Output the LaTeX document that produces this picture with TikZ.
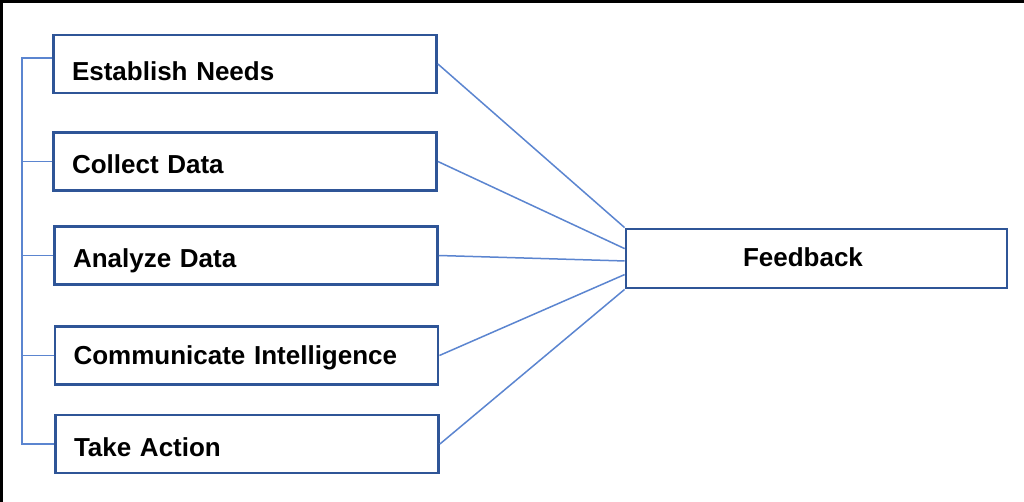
\documentclass[tikz,border=0pt]{standalone}
\usepackage{fontspec}
\setmainfont{Liberation Sans}
\usetikzlibrary{calc}
\definecolor{boxblue}{HTML}{2F5597}
\definecolor{linkblue}{HTML}{5B85D0}
\begin{document}
\begin{tikzpicture}[x=1pt,y=-1pt,
  stepbox/.style={draw=boxblue, line width=2.8pt, fill=white,
    minimum width=383pt, minimum height=58pt, inner xsep=18.5pt, inner ysep=0pt,
    text width=346pt, align=left, text height=41.3pt, text depth=16.7pt,
    font=\fontsize{26}{30}\selectfont\bfseries},
  hubbox/.style={draw=boxblue, line width=2.8pt, fill=white,
    minimum width=381pt, minimum height=59pt, inner sep=0pt,
    text width=381pt, align=left,
    text height=37.8pt, text depth=21.2pt,
    font=\fontsize{26}{30}\selectfont\bfseries},
  link/.style={draw=linkblue, line width=1.5pt},
  frame/.style={draw=black, line width=2.6pt}]
  \useasboundingbox (0,0) rectangle (1024,502);
  \fill[white] (0,0) rectangle (1024,502);
  % outer frame (top and left edges)
  \draw[frame] (1.3,502) -- (1.3,1.3) -- (1024,1.3);

  % process steps
  \node[stepbox, text height=45.3pt, text depth=12.7pt] (en) at (245,64) {Establish Needs};
  \node[stepbox] (cd) at (245,161.5) {Collect Data};
  \node[stepbox] (ad) at (246,255.5) {Analyze Data};
  \node[stepbox, text height=38pt, text depth=20pt] (ci) at (246.5,355.5) {Communicate Intelligence};
  \node[stepbox] (ta) at (247,444) {Take Action};

  % feedback hub, label set a little left of centre
  \node[hubbox] (fb) at (816.5,258.5) {\hspace*{117pt}Feedback};

  % left bracket joining the steps
  \coordinate (spinetop) at ([yshift=6pt]en.west -| 22,0);
  \draw[link] ([yshift=6pt]en.west) -- (spinetop) -- (spinetop |- ta.west) -- (ta.west);
  \draw[link] (cd.west) -- (spinetop |- cd.west);
  \draw[link] (ad.west) -- (spinetop |- ad.west);
  \draw[link] (ci.west) -- (spinetop |- ci.west);

  % fan into the feedback box
  \draw[link] (en.east) -- (fb.north west);
  \draw[link] (cd.east) -- ($(fb.north west)!0.34!(fb.south west)$);
  \draw[link] (ad.east) -- ($(fb.north west)!0.54!(fb.south west)$);
  \draw[link] (ci.east) -- ($(fb.north west)!0.76!(fb.south west)$);
  \draw[link] (ta.east) -- (fb.south west);
\end{tikzpicture}
\end{document}
